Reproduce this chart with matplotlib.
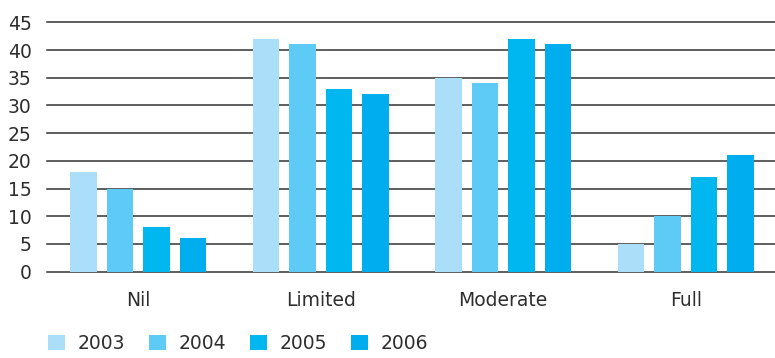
import matplotlib
matplotlib.use("Agg")
import matplotlib.pyplot as plt
import numpy as np

categories = ["Nil", "Limited", "Moderate", "Full"]
years = ["2003", "2004", "2005", "2006"]
v2003 = [18, 42, 35, 5]
v2004 = [15, 41, 34, 10]
v2005 = [8, 33, 42, 17]
v2006 = [6, 32, 41, 21]
yticks = [0, 5, 10, 15, 20, 25, 30, 35, 40, 45]

colors = ["#abdff9", "#5ecbf6", "#00b7ef", "#00adee"]
series = [v2003, v2004, v2005, v2006]

plt.rcParams['font.family'] = ['DejaVu Sans']
fig = plt.figure(figsize=(7.75, 3.58), dpi=100)
ax = fig.add_axes([47/775, 1 - 271.7/358, 4*182.5/775, (271.7-22.3)/358])

x = np.arange(len(categories))
offsets = [-0.3, -0.1, 0.1, 0.3]
for s, off, c, lab in zip(series, offsets, colors, years):
    ax.bar(x + off, s, width=0.143, color=c, label=lab, zorder=3)

ax.set_xlim(-0.5, 3.5)
ax.set_ylim(0, 45)
ax.set_yticks(yticks)
ax.set_xticks(x)
ax.set_xticklabels(categories)
for t in yticks:
    ax.axhline(t, color="#333333", lw=1.1, zorder=1, clip_on=False)
for sp in ax.spines.values():
    sp.set_visible(False)
ax.tick_params(axis='both', length=0, labelsize=13.5, colors="#2e2e2e")
ax.tick_params(axis='y', pad=11)
ax.tick_params(axis='x', pad=14)

fig.legend(loc='center left', bbox_to_anchor=(48/775, (358-343.5)/358), ncol=4, frameon=False,
           fontsize=13.5, handlelength=0.9, handleheight=0.9, handletextpad=0.7,
           columnspacing=1.25, borderpad=0, borderaxespad=0, labelcolor="#2e2e2e")

fig.savefig("out.png", dpi=100)
